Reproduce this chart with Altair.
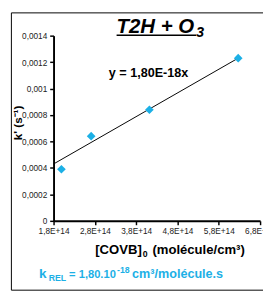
import altair as alt
import pandas as pd

# ---- data ----
conc = [1.99e14, 2.71e14, 4.12e14, 6.27e14]          # [COVB]0 (molécule/cm3)
kprime = [0.00039, 0.00064, 0.00084, 0.00123]        # k' (s-1)
trend_x = [1.8e14, 6.27e14]
trend_y = [0.00043, 0.00123]
x_ticks = [1.8e14, 2.8e14, 3.8e14, 4.8e14, 5.8e14, 6.8e14]
y_ticks = [0, 0.0002, 0.0004, 0.0006, 0.0008, 0.001, 0.0012, 0.0014]

title_main = ["T2H + O"]
title_sub = ["3"]
equation = ["y = 1,80E-18x"]
y_title = ["k' (s⁻¹)"]
x_title_a = ["[COVB]"]
x_title_sub = ["0"]
x_title_b = ["(molécule/cm³)"]
krel_k = ["k"]
krel_sub = ["REL"]
krel_a = ["= 1,80.10"]
krel_sup = ["-18"]
krel_b = ["cm³/molécule.s"]

FONT = "Liberation Sans"
CYAN = "#1cb0e6"

pts = pd.DataFrame({"x": conc, "y": kprime})
trend = pd.DataFrame({"x": trend_x, "y": trend_y})

xscale = alt.Scale(domain=[1.8e14, 6.8e14], nice=False, zero=False)
yscale = alt.Scale(domain=[0, 0.0014], nice=False)

xaxis = alt.Axis(values=x_ticks,
                 labelExpr="replace(format(datum.value/1e14, '.1f'), '.', ',') + 'E+14'",
                 title=None, domainColor="black", domainWidth=2, tickColor="black",
                 tickSize=4, tickWidth=1.5, labelFontSize=8.5, labelColor="#222",
                 labelPadding=2, grid=False, labelOverlap=False, labelFlush=False,
                 labelFont=FONT)
yaxis = alt.Axis(values=y_ticks,
                 labelExpr="replace(format(datum.value, '.4~f'), '.', ',')",
                 title=None, domainColor="black", domainWidth=2, tickColor="black",
                 tickSize=4, tickWidth=1.5, labelFontSize=8.5, labelColor="#222",
                 labelPadding=3, grid=False, labelOverlap=False, labelFlush=False,
                 labelFont=FONT)

line = alt.Chart(trend).mark_line(color="black", strokeWidth=1).encode(
    x=alt.X("x:Q", scale=xscale, axis=xaxis),
    y=alt.Y("y:Q", scale=yscale, axis=yaxis),
)
points = alt.Chart(pts).mark_point(shape="diamond", filled=True, size=80,
                                   color=CYAN, opacity=1).encode(
    x=alt.X("x:Q", scale=xscale, axis=xaxis),
    y=alt.Y("y:Q", scale=yscale, axis=yaxis),
)

frame = alt.Chart(pd.DataFrame({"a": [0]})).mark_rect(
    fillOpacity=0, stroke="black", strokeWidth=1).encode(
    x=alt.value(-43.5), x2=alt.value(240), y=alt.value(-23.5), y2=alt.value(262.5))

underline = alt.Chart(pd.DataFrame({"a": [0]})).mark_rule(
    color="black", strokeWidth=1.5).encode(
    x=alt.value(65), x2=alt.value(147), y=alt.value(-0.5))


def txt(values, x, y, size, color="black", align="left", baseline="alphabetic",
        style="normal", angle=0):
    return alt.Chart(pd.DataFrame({"t": values})).mark_text(
        font=FONT, fontSize=size, fontWeight="bold", fontStyle=style,
        color=color, align=align, baseline=baseline, angle=angle).encode(
        text="t:N", x=alt.value(x), y=alt.value(y))


texts = [
    txt(title_main, 65, -3, 21, style="italic"),
    txt(title_sub, 147, 1.5, 15, style="italic"),
    txt(equation, 57, 43, 13),
    txt(y_title, -37, 90, 12, align="center", baseline="middle", angle=270),
    txt(x_title_a, 43, 225, 13.5),
    txt(x_title_sub, 92, 228, 9),
    txt(x_title_b, 102, 225, 13.5),
    txt(krel_k, -15, 250, 14, color=CYAN),
    txt(krel_sub, -5, 253, 9, color=CYAN),
    txt(krel_a, 16, 250, 11.5, color=CYAN),
    txt(krel_sup, 65.5, 245, 9, color=CYAN),
    txt(krel_b, 81, 250, 13, color=CYAN),
]

chart = alt.layer(frame, line, points, underline, *texts).properties(
    width=213, height=191,
    autosize=alt.AutoSizeParams(type="none"),
    padding={"left": 47, "top": 24, "right": 3, "bottom": 74},
    background="white",
).configure_view(strokeWidth=0)

chart.save("out.html", embed_options={"renderer": "svg", "actions": False})
